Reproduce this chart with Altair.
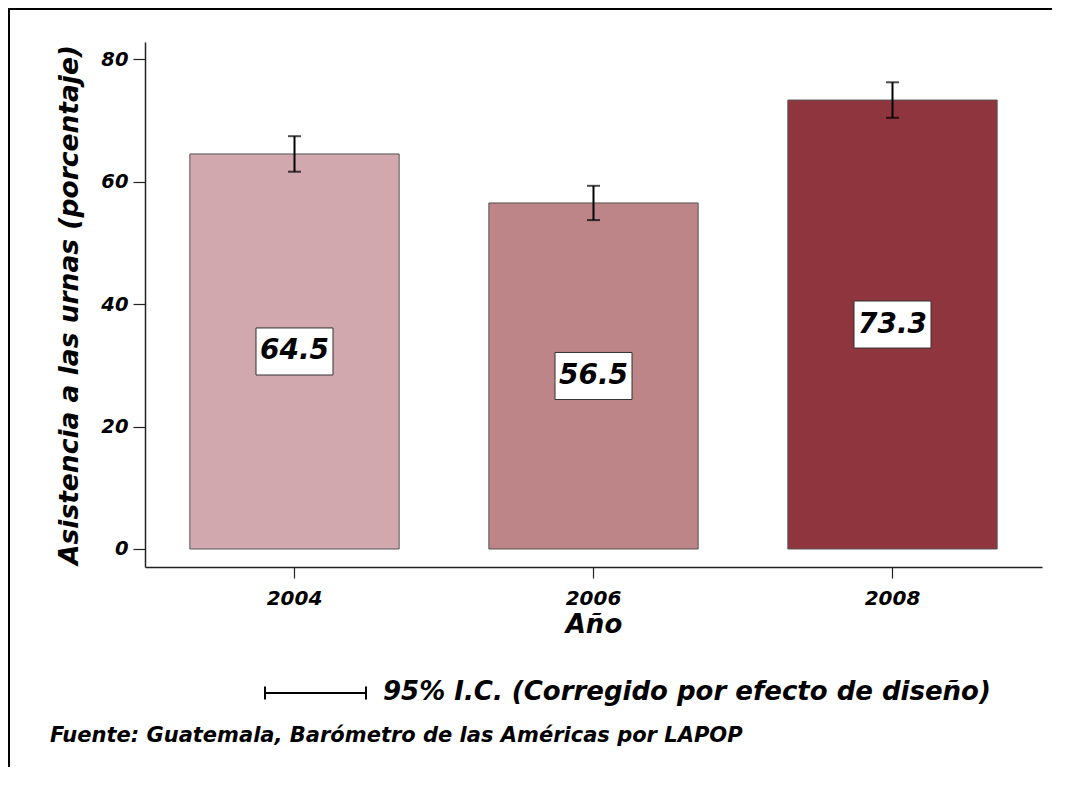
import altair as alt
import pandas as pd

years = ["2004", "2006", "2008"]
values = [64.5, 56.5, 73.3]
ci_low = [61.6, 53.7, 70.4]
ci_high = [67.4, 59.3, 76.2]
colors = ["#D1A8AD", "#BD8587", "#8E353D"]
y_ticks = [0, 20, 40, 60, 80]

y_title = "Asistencia a las urnas (porcentaje)"
x_title = "Año"
legend_text = "95% I.C. (Corregido por efecto de diseño)"
source_text = "Fuente: Guatemala, Barómetro de las Américas por LAPOP"

FONT = "DejaVu Sans"

df = pd.DataFrame({"year": years, "value": values, "lo": ci_low, "hi": ci_high})
df["label"] = [f"{v:.1f}" for v in values]
df["mid"] = df["value"] / 2
df["box_lo"] = df["mid"] - 3.84
df["box_hi"] = df["mid"] + 3.84

W, H = 897, 525

x_enc = alt.X(
    "year:N",
    sort=years,
    scale=alt.Scale(paddingInner=0.3, paddingOuter=0.15),
    axis=alt.Axis(
        title=x_title,
        labelAngle=0,
        labelFont=FONT,
        labelFontSize=20,
        labelFontWeight="bold",
        labelFontStyle="italic",
        labelColor="black",
        labelPadding=10,
        tickSize=11,
        tickColor="#222222",
        tickWidth=1.2,
        domainColor="#222222",
        domainWidth=1.5,
        titleFont=FONT,
        titleFontSize=26,
        titleFontWeight="bold",
        titleFontStyle="italic",
        titleColor="black",
        titlePadding=3,
    ),
)

y_scale = alt.Scale(domain=[-2.94, 82.78], nice=False, zero=False)
y_axis = alt.Axis(
    title=y_title,
    values=y_ticks,
    grid=False,
    labelFont=FONT,
    labelFontSize=19.5,
    labelFontWeight="bold",
    labelFontStyle="italic",
    labelColor="black",
    labelPadding=5,
    tickSize=12,
    tickColor="#222222",
    tickWidth=1.2,
    domainColor="#222222",
    domainWidth=1.5,
    titleFont=FONT,
    titleFontSize=26.5,
    titleFontWeight="bold",
    titleFontStyle="italic",
    titleColor="black",
    titleAngle=270,
    titleAlign="center",
    titleBaseline="middle",
    titleX=-76,
    titleY=H / 2,
)

base = alt.Chart(df)

bars = base.mark_bar(stroke="#555555", strokeWidth=1).encode(
    x=x_enc,
    y=alt.Y("value:Q", scale=y_scale, axis=y_axis),
    y2=alt.datum(0),
    color=alt.Color("year:N", scale=alt.Scale(domain=years, range=colors), legend=None),
)

err_rule = base.mark_rule(color="black", strokeWidth=2).encode(
    x=alt.X("year:N", sort=years),
    y=alt.Y("lo:Q", scale=y_scale),
    y2="hi:Q",
)
cap_lo = base.mark_tick(color="black", thickness=2, size=13, orient="horizontal").encode(
    x=alt.X("year:N", sort=years), y=alt.Y("lo:Q", scale=y_scale)
)
cap_hi = base.mark_tick(color="black", thickness=2, size=13, orient="horizontal").encode(
    x=alt.X("year:N", sort=years), y=alt.Y("hi:Q", scale=y_scale)
)

boxes = base.mark_bar(width=77, fill="white", stroke="#333333", strokeWidth=1).encode(
    x=alt.X("year:N", sort=years),
    y=alt.Y("box_lo:Q", scale=y_scale),
    y2="box_hi:Q",
)
labels = base.mark_text(
    font=FONT, fontSize=28, fontWeight="bold", fontStyle="italic", color="black", baseline="middle"
).encode(
    x=alt.X("year:N", sort=years),
    y=alt.Y("mid:Q", scale=y_scale),
    text="label:N",
)

one = pd.DataFrame({"k": [0]})
ann = alt.Chart(one)

# legend glyph (horizontal error bar) and legend text
leg_line = ann.mark_rule(color="black", strokeWidth=2).encode(
    x=alt.value(120), x2=alt.value(221), y=alt.value(651)
)
leg_cap1 = ann.mark_rule(color="black", strokeWidth=2).encode(
    x=alt.value(120), y=alt.value(644.5), y2=alt.value(657.5)
)
leg_cap2 = ann.mark_rule(color="black", strokeWidth=2).encode(
    x=alt.value(221), y=alt.value(644.5), y2=alt.value(657.5)
)
leg_text = ann.mark_text(
    font=FONT, fontSize=26, fontWeight="bold", fontStyle="italic", color="black",
    align="left", baseline="middle",
).encode(x=alt.value(238), y=alt.value(650), text=alt.value(legend_text))

src_text = ann.mark_text(
    font=FONT, fontSize=21, fontWeight="bold", fontStyle="italic", color="black",
    align="left", baseline="middle",
).encode(x=alt.value(-95), y=alt.value(694), text=alt.value(source_text))

# outer figure frame: only left and top edges are visible in the reference
frame_left = ann.mark_rule(color="black", strokeWidth=2).encode(
    x=alt.value(-136), y=alt.value(-33), y2=alt.value(760)
)
frame_top = ann.mark_rule(color="black", strokeWidth=2).encode(
    x=alt.value(-137), x2=alt.value(940), y=alt.value(-33)
)

chart = (
    alt.layer(frame_left, frame_top, bars, err_rule, cap_lo, cap_hi, boxes, labels,
              leg_line, leg_cap1, leg_cap2, leg_text, src_text)
    .properties(
        width=W,
        height=H,
        autosize=alt.AutoSizeParams(type="none"),
        padding={"left": 137, "top": 34, "right": 10, "bottom": 200},
        background="white",
    )
    .configure_view(stroke=None)
)

chart.save("out.html", embed_options={"renderer": "svg", "actions": False})
